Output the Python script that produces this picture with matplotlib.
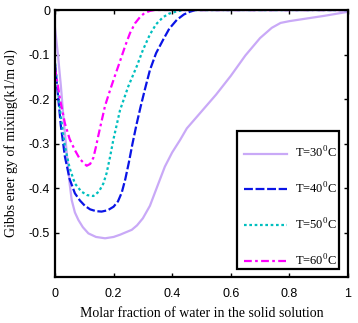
import matplotlib
matplotlib.use('Agg')
import matplotlib.pyplot as plt
from matplotlib.patches import Rectangle

plt.rcParams['mathtext.fontset'] = 'custom'
plt.rcParams['mathtext.rm'] = 'Liberation Serif'

# Values
x30 = [0, 0.01, 0.02, 0.03, 0.04, 0.05, 0.057, 0.068, 0.08, 0.095, 0.114, 0.14, 0.171,
       0.2, 0.222, 0.24, 0.262, 0.28, 0.3, 0.324, 0.35, 0.375, 0.4, 0.427, 0.45, 0.5,
       0.55, 0.6, 0.65, 0.7, 0.74, 0.77, 0.8, 0.85, 0.92, 1.0]
y30 = [-0.04, -0.1, -0.17, -0.25, -0.32, -0.39, -0.427, -0.455, -0.472, -0.488, -0.502,
       -0.51, -0.513, -0.51, -0.505, -0.5, -0.494, -0.484, -0.468, -0.44, -0.395, -0.352,
       -0.32, -0.292, -0.266, -0.228, -0.19, -0.148, -0.102, -0.063, -0.04, -0.029,
       -0.025, -0.02, -0.013, -0.004]

x40 = [0, 0.01, 0.02, 0.034, 0.05, 0.068, 0.085, 0.102, 0.12, 0.14, 0.159, 0.18, 0.2,
       0.215, 0.228, 0.24, 0.252, 0.264, 0.278, 0.292, 0.307, 0.324, 0.345, 0.369, 0.39,
       0.416, 0.44, 0.46, 0.48, 1.0]
y40 = [-0.12, -0.19, -0.26, -0.33, -0.38, -0.412, -0.428, -0.44, -0.448, -0.452, -0.453,
       -0.45, -0.442, -0.43, -0.41, -0.38, -0.343, -0.302, -0.258, -0.218, -0.178,
       -0.135, -0.097, -0.067, -0.042, -0.022, -0.01, -0.004, 0, 0]

x50 = [0, 0.01, 0.02, 0.034, 0.05, 0.068, 0.09, 0.11, 0.131, 0.15, 0.165, 0.176, 0.188,
       0.199, 0.222, 0.25, 0.28, 0.3, 0.324, 0.345, 0.369, 0.39, 0.416, 0.44, 1.0]
y50 = [-0.12, -0.18, -0.24, -0.307, -0.355, -0.39, -0.408, -0.416, -0.418, -0.408,
       -0.39, -0.367, -0.33, -0.292, -0.225, -0.172, -0.125, -0.09, -0.055, -0.032,
       -0.016, -0.008, -0.003, 0, 0]

x60 = [0, 0.017, 0.034, 0.05, 0.068, 0.085, 0.108, 0.12, 0.131, 0.14, 0.148, 0.16,
       0.171, 0.188, 0.205, 0.222, 0.24, 0.256, 0.273, 0.29, 0.305, 0.324, 0.34, 1.0]
y60 = [-0.13, -0.2, -0.255, -0.29, -0.315, -0.335, -0.35, -0.346, -0.332, -0.307, -0.282,
       -0.247, -0.215, -0.18, -0.147, -0.115, -0.08, -0.052, -0.03, -0.016, -0.007,
       -0.002, 0, 0]

labels = ['T=30$^{0}$C', 'T=40$^{0}$C', 'T=50$^{0}$C', 'T=60$^{0}$C']
xticks = [0, 0.2, 0.4, 0.6, 0.8, 1]
xticklabels = ['0', '0.2', '0.4', '0.6', '0.8', '1']
yticks = [0, -0.1, -0.2, -0.3, -0.4, -0.5]
yticklabels = ['0', '-0.1', '-0.2', '-0.3', '-0.4', '-0.5']

fig = plt.figure(figsize=(3.58, 3.23), dpi=100)
ax = fig.add_axes([0.1536, 0.1424, 0.8184, 0.8266])

ax.plot(x30, y30, color='#c9a9f7', linewidth=1.6, linestyle='-', label=labels[0])
ax.plot(x40, y40, color='#0a14e6', linewidth=1.6, linestyle=(0, (4, 1.2)), label=labels[1])
ax.plot(x50, y50, color='#00bfbf', linewidth=1.6, linestyle=(0, (1.2, 1.2)), label=labels[2])
ax.plot(x60, y60, color='#ff00ff', linewidth=1.6, linestyle=(0, (3.5, 1.5, 1.2, 1.5)),
        label=labels[3])

ax.set_xlim(0, 1)
ax.set_ylim(-0.6, 0)
ax.set_xticks(xticks)
ax.set_xticklabels(xticklabels, fontfamily='Liberation Sans', fontsize=9)
ax.set_yticks(yticks)
ax.set_yticklabels(yticklabels, fontfamily='Liberation Sans', fontsize=9)
ax.tick_params(direction='in', length=3, width=1, top=True, right=True)
ax.tick_params(axis='x', pad=8)
ax.tick_params(axis='y', pad=3.5)
for s in ax.spines.values():
    s.set_linewidth(1.6)

ax.set_xlabel('Molar fraction of water in the solid solution',
              fontfamily='Liberation Serif', fontsize=10, labelpad=5)
ax.set_ylabel('Gibbs ener gy of mixing(k1/m ol)',
              fontfamily='Liberation Serif', fontsize=10, labelpad=8)

# MATLAB style legend box: more room on top than at the bottom
ax.add_patch(Rectangle((0.621, 0.030), 0.348, 0.517, transform=ax.transAxes,
                       facecolor='white', edgecolor='black', linewidth=1.6, zorder=4))
leg = ax.legend(loc='center', bbox_to_anchor=(0.804, 0.262), frameon=False,
                handlelength=3.4, labelspacing=1.64, borderpad=0, handletextpad=0.64,
                borderaxespad=0, prop={'family': 'Liberation Serif', 'size': 9})
leg.set_zorder(5)

fig.savefig('out.png', dpi=100)
